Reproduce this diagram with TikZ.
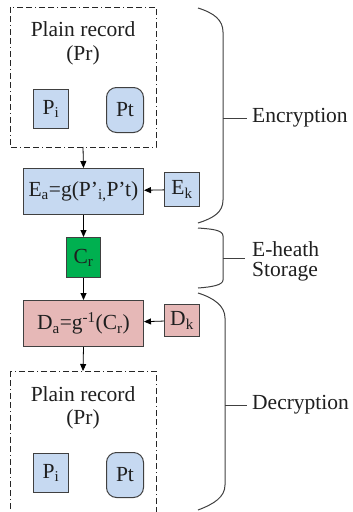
\documentclass[tikz,border=0pt]{standalone}
\usepackage{fontspec}
\setmainfont{Liberation Serif}
\usetikzlibrary{arrows.meta}
\definecolor{lblue}{HTML}{C6D9F1}
\definecolor{dgreen}{HTML}{00B050}
\definecolor{lpink}{HTML}{E6B8B7}
\definecolor{edge}{HTML}{404040}
\tikzset{
  every node/.style={font=\fontspec{Liberation Serif}\fontsize{21.5}{24}\selectfont, text=black!88},
  sqbox/.style={draw=edge, line width=1pt, inner sep=0pt, anchor=north west},
  recbox/.style={draw=black!85, line width=0.9pt, dash pattern=on 6pt off 3pt on 6pt off 3pt on 1pt off 3pt},
  conn/.style={draw=black, line width=0.8pt, -{Triangle[length=7pt,width=6pt]}},
  brace/.style={draw=edge, line width=1pt},
  lbl/.style={anchor=west, align=left, inner sep=0pt}
}
\begin{document}
\begin{tikzpicture}[x=1pt,y=-1pt]
\useasboundingbox (0,0) rectangle (353,512);
% top record
\draw[recbox] (10,7) rectangle (156,147);
\coordinate (topb) at (83,147);
\node at (83,29) (pl1) {Plain record};
\node at (83,55) (pr1) {(Pr)};
\node[sqbox, fill=lblue, minimum width=35pt, minimum height=39pt] (pi1) at (33,89) {P\textsubscript{i}};
\node[sqbox, fill=lblue, rounded corners=10pt, minimum width=37pt, minimum height=45pt] (pt1) at (106,87) {Pt};
% Ea
\node[sqbox, fill=lblue, minimum width=120pt, minimum height=46pt] (ea) at (23,168) {E\textsubscript{a}=g(P’\textsubscript{i,}P’t)};
\node[sqbox, fill=lblue, minimum width=35pt, minimum height=34pt] (ek) at (164,172) {E\textsubscript{k}};
% Cr
\node[sqbox, fill=dgreen, minimum width=34pt, minimum height=40pt] (cr) at (66,237) {C\textsubscript{r}};
% Da
\node[sqbox, fill=lpink, minimum width=120pt, minimum height=46pt] (da) at (23,300) {D\textsubscript{a}=g\textsuperscript{-1}(C\textsubscript{r})};
\node[sqbox, fill=lpink, minimum width=35pt, minimum height=32pt] (dk) at (164,304) {D\textsubscript{k}};
% bottom record
\draw[recbox] (10,371) rectangle (156,512);
\coordinate (botb) at (83,371);
\node at (83,394) (pl2) {Plain record};
\node at (83,419) (pr2) {(Pr)};
\node[sqbox, fill=lblue, minimum width=35pt, minimum height=39pt] (pi2) at (33,453) {P\textsubscript{i}};
\node[sqbox, fill=lblue, rounded corners=10pt, minimum width=37pt, minimum height=45pt] (pt2) at (106,452) {Pt};
% connectors
\draw[conn] (topb) -- (ea.north);
\draw[conn] (ek) -- (ea);
\draw[conn] (ea) -- (cr);
\draw[conn] (cr) -- (da);
\draw[conn] (dk) -- (da);
\draw[conn] (da.south) -- (botb);
% braces
\draw[brace] (198,8) .. controls (214,13) and (223,20) .. (223,32) -- (223,200) .. controls (223,212) and (214,218) .. (198,223);
\coordinate (encm) at (223,118);
\coordinate (enct) at (247,118);
\draw[brace] (encm) -- (enct);
\node[lbl] (enc) at (252,118) {Encryption};
\draw[brace] (198,228) .. controls (212,229) and (223,230) .. (223,236) -- (223,280) .. controls (223,285) and (212,287) .. (198,288);
\coordinate (stm) at (223,258);
\coordinate (stt) at (245,258);
\draw[brace] (stm) -- (stt);
\node[lbl] (st1) at (252,249) {E-heath};
\node[lbl] (st2) at (252,272) {Storage};
\draw[brace] (198,293) .. controls (214,298) and (225,306) .. (225,318) -- (225,485) .. controls (225,497) and (214,504) .. (198,510);
\coordinate (decm) at (225,405);
\coordinate (dect) at (247,405);
\draw[brace] (decm) -- (dect);
\node[lbl] (dec) at (252,405) {Decryption};
\end{tikzpicture}
\end{document}
